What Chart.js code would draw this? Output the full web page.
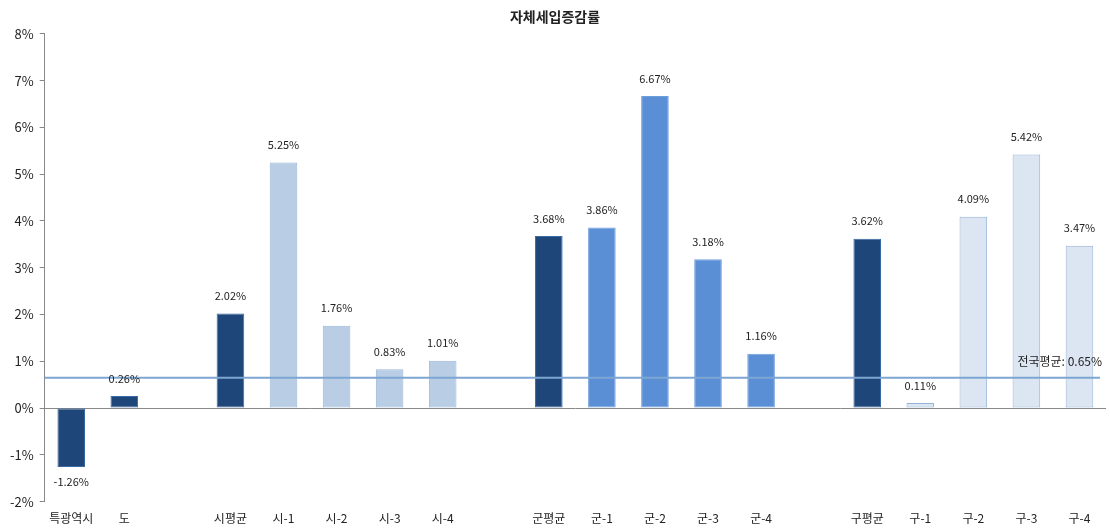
<!DOCTYPE html>
<html>
<head>
<meta charset="utf-8">
<script src="https://cdn.jsdelivr.net/npm/chart.js@4/dist/chart.umd.min.js"></script>
<style>
html,body{margin:0;padding:0;background:#fff;}
#wrap{width:1110px;height:530px;position:relative;}
</style>
</head>
<body>
<div id="wrap"><canvas id="c" width="1110" height="530"></canvas></div>
<script>
const title = '자체세입증감률';
const categories = ['특광역시','도','','시평균','시-1','시-2','시-3','시-4','','군평균','군-1','군-2','군-3','군-4','','구평균','구-1','구-2','구-3','구-4'];
const values = [-1.26, 0.26, null, 2.02, 5.25, 1.76, 0.83, 1.01, null, 3.68, 3.86, 6.67, 3.18, 1.16, null, 3.62, 0.11, 4.09, 5.42, 3.47];
const groups = ['avg','avg','','avg','si','si','si','si','','avg','gun','gun','gun','gun','','avg','gu','gu','gu','gu'];
const nationalAvg = 0.65;
const nationalAvgLabel = '전국평균: 0.65%';
const yTicks = [-2,-1,0,1,2,3,4,5,6,7,8];

const fillColors = {avg:'#1f4678', si:'#b9cde5', gun:'#5a8fd6', gu:'#dce6f2', '':'#fff'};
const borderColors = {avg:'#3a6aa6', si:'#9ab7da', gun:'#6f9edc', gu:'#95b3d7', '':'#fff'};

const FONT = '"Malgun Gothic","Noto Sans CJK KR","Noto Sans",sans-serif';

const overlay = {
  id:'overlay',
  afterDatasetsDraw(chart){
    const {ctx, chartArea, scales} = chart;
    const y = scales.y.getPixelForValue(nationalAvg);
    ctx.save();
    ctx.strokeStyle = '#7ea6d3';
    ctx.lineWidth = 2;
    ctx.beginPath();
    ctx.moveTo(chartArea.left, y);
    ctx.lineTo(chartArea.right - 6, y);
    ctx.stroke();
    ctx.font = '11px ' + FONT;
    ctx.fillStyle = '#222';
    ctx.textAlign = 'center';
    const meta = chart.getDatasetMeta(0);
    meta.data.forEach((bar, i) => {
      const v = values[i];
      if (v === null) return;
      const txt = v.toFixed(2) + '%';
      if (v >= 0) {
        ctx.textBaseline = 'bottom';
        ctx.fillText(txt, bar.x, bar.y - 12);
      } else {
        ctx.textBaseline = 'top';
        ctx.fillText(txt, bar.x, bar.y + 9);
      }
    });
    ctx.font = '12px ' + FONT;
    ctx.textAlign = 'right';
    ctx.textBaseline = 'bottom';
    ctx.fillText(nationalAvgLabel, chartArea.right - 4, y - 10);
    ctx.restore();
  }
};

new Chart(document.getElementById('c'), {
  type:'bar',
  data:{
    labels: categories,
    datasets:[{
      data: values,
      backgroundColor: groups.map(g => fillColors[g]),
      borderColor: groups.map(g => borderColors[g]),
      borderWidth: 1,
      borderSkipped: false,
      barPercentage: 0.52,
      categoryPercentage: 1.0
    }]
  },
  options:{
    responsive:false,
    animation:false,
    devicePixelRatio:1,
    layout:{padding:{left:4, right:4, top:0, bottom:2}},
    plugins:{
      legend:{display:false},
      tooltip:{enabled:false},
      title:{display:true, text:title, color:'#222', font:{family:FONT, size:14, weight:'bold'}, padding:{top:8, bottom:9}}
    },
    scales:{
      x:{
        grid:{display:false},
        border:{display:false},
        ticks:{color:'#222', font:{family:FONT, size:12}, padding:2, autoSkip:false, maxRotation:0}
      },
      y:{
        min:-2, max:8,
        afterBuildTicks(axis){ axis.ticks = yTicks.map(v => ({value:v})); },
        grid:{
          drawOnChartArea:true,
          color: c => (c.tick && c.tick.value === 0) ? '#888' : 'rgba(0,0,0,0)',
          tickColor:'#888',
          tickLength:5,
          lineWidth:1
        },
        border:{display:true, color:'#888'},
        ticks:{color:'#222', font:{family:FONT, size:13}, padding:6, callback: v => v + '%'}
      }
    }
  },
  plugins:[overlay]
});
</script>
</body>
</html>
